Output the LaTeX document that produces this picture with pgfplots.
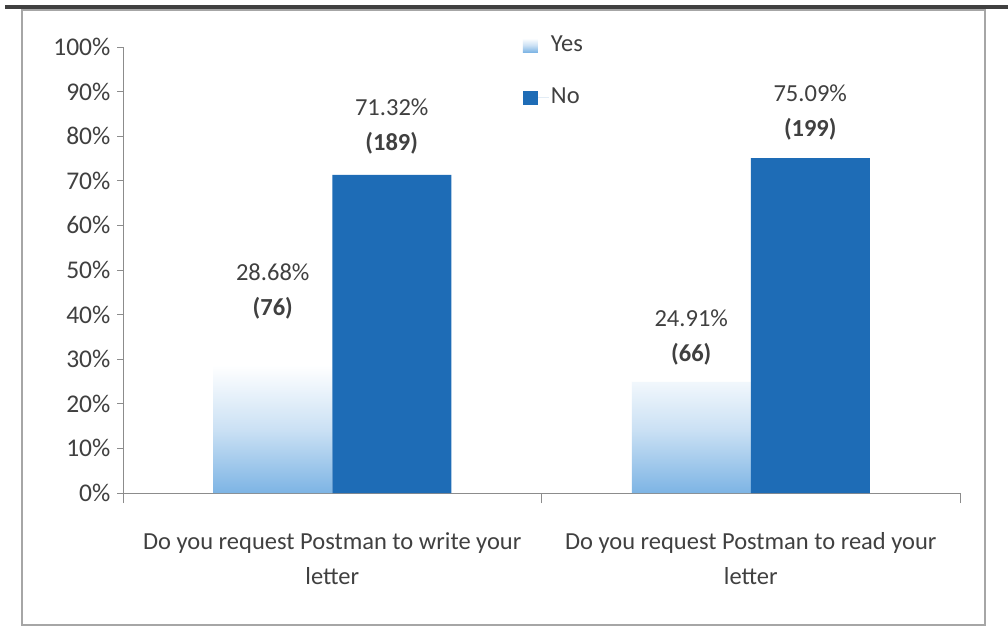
\documentclass[border=0pt]{standalone}
\usepackage{fontspec}
\setmainfont{Carlito}
\usepackage{pgfplots}
\usepackage{pgfplotstable}
\pgfplotsset{compat=1.18}
\definecolor{nob}{RGB}{30,108,182}
\definecolor{yesb}{RGB}{125,180,228}
\definecolor{txt}{RGB}{64,64,64}
\definecolor{axc}{RGB}{140,140,140}
\pgfplotstableread{
x y lab shift
0 28.68 {28.68\%\\\textbf{(76)}} 38
1 24.91 {24.91\%\\\textbf{(66)}} 8
}\yesdata
\pgfplotstableread{
x y lab shift
0 71.32 {71.32\%\\\textbf{(189)}} 12
1 75.09 {75.09\%\\\textbf{(199)}} 10
}\nodata
\begin{document}
\fontsize{24.5}{29}\selectfont
\begin{tikzpicture}[x=1pt,y=1pt]
\useasboundingbox (0,0) rectangle (1008,627);
\fill[white] (0,0) rectangle (1008,627);
\draw[gray!70, line width=1.2pt] (22,2) rectangle (985,617);
\draw[black!75, line width=4pt] (5,620) -- (1008,620);
\begin{axis}[
  at={(123pt,134pt)}, anchor=south west,
  width=837pt, height=446pt, scale only axis,
  xmin=-0.5, xmax=1.5, ymin=0, ymax=100,
  axis x line*=bottom, axis y line*=left,
  axis line style={axc, line width=0.8pt},
  every axis plot/.append style={draw=none},
  ybar=0pt, bar width=119pt,
  ytick={0,10,...,100},
  yticklabel={\pgfmathprintnumber{\tick}\%},
  /pgf/number format/assume math mode=true,
  tick style={axc, line width=0.8pt},
  ytick style={/pgfplots/major tick length=6pt},
  tick align=outside,
  xtick={0,1},
  xticklabels={Do you request Postman to write your\\letter, Do you request Postman to read your\\letter},
  x tick label style={align=center, text=txt, font=\fontsize{24.5}{35}\selectfont, yshift=-27pt},
  xtick style={draw=none},
  extra x ticks={-0.5,0.5,1.5},
  extra x tick labels={},
  extra x tick style={xtick style={draw=axc, /pgfplots/major tick length=10pt}},
  y tick label style={text=txt, font=\fontsize{25.5}{30}\selectfont},
  nodes near coords,
  point meta=explicit symbolic,
  nodes near coords style={align=center, text=txt, font=\fontsize{24.5}{35}\selectfont, yshift=\myshift pt},
  visualization depends on={\thisrow{shift} \as \myshift},
  legend style={at={(0.474,1.035)}, anchor=north west, draw=none, fill=none,
    font=\fontsize{24.5}{29}\selectfont, text=txt, row sep=29pt},
  legend cell align=left,
  clip=false,
]
\addplot[top color=white, bottom color=yesb, middle color=yesb!40,
  legend image code/.code={\fill[gray!45] (0pt,-7pt) rectangle (15pt,7pt);\path (0pt,0pt) -- (26pt,0pt);}]
  table[x=x, y=y, meta=lab] {\yesdata};
\addlegendentry{Yes}
\addplot[fill=nob,
  legend image code/.code={\fill[nob] (0pt,-7pt) rectangle (15pt,7pt);\path (0pt,0pt) -- (26pt,0pt);}]
  table[x=x, y=y, meta=lab] {\nodata};
\addlegendentry{No}
\end{axis}
\end{tikzpicture}
\end{document}
